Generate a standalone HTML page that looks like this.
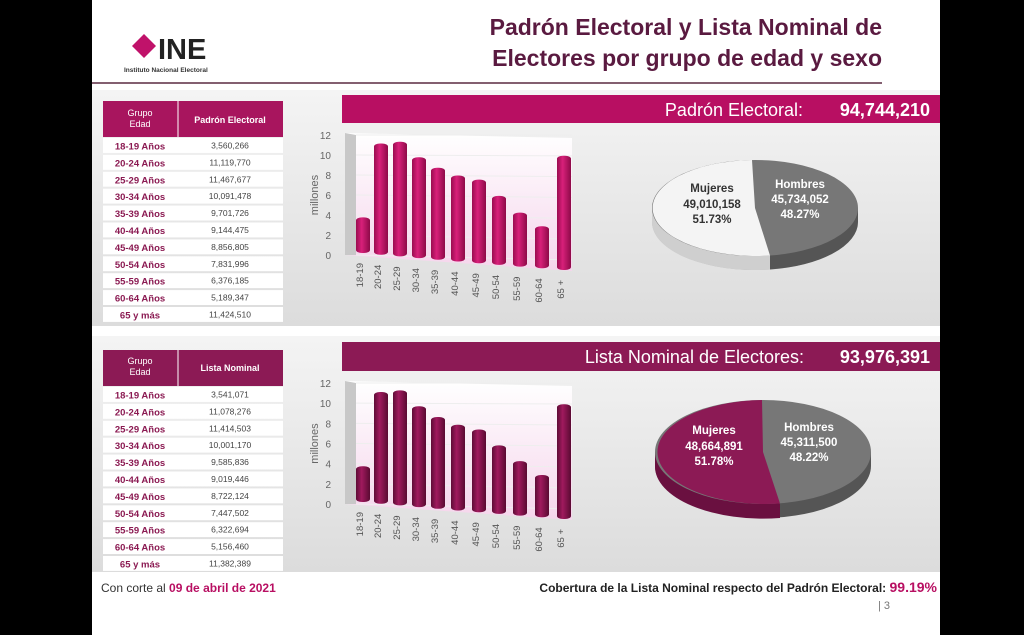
<!DOCTYPE html>
<html><head><meta charset="utf-8"><style>
body{margin:0;background:#000;}
svg{display:block;font-family:"Liberation Sans",sans-serif;}
</style></head><body>
<svg width="1024" height="635" viewBox="0 0 1024 635" xmlns="http://www.w3.org/2000/svg">
<defs>
<linearGradient id="pg" x1="0" y1="0" x2="0" y2="1"><stop offset="0" stop-color="#f4f4f4"/><stop offset="1" stop-color="#dcdcdc"/></linearGradient>
<linearGradient id="wall" x1="0" y1="0" x2="0" y2="1"><stop offset="0" stop-color="#fff"/><stop offset="1" stop-color="#f5d5ec"/></linearGradient>
<linearGradient id="b1" x1="0" x2="1"><stop offset="0" stop-color="#9a0c50"/><stop offset=".4" stop-color="#d8207a"/><stop offset="1" stop-color="#8e0a48"/></linearGradient>
<linearGradient id="b2" x1="0" x2="1"><stop offset="0" stop-color="#5e0c36"/><stop offset=".4" stop-color="#a01a5e"/><stop offset="1" stop-color="#5a0a32"/></linearGradient>
</defs>
<rect x="0" y="0" width="1024" height="635" fill="#000"/>
<rect x="92" y="0" width="848" height="635" fill="#fff"/>
<!-- header -->
<polygon points="144,34 156,46 144,58 132,46" fill="#c0126a"/>
<text x="158" y="59" font-size="29" font-weight="bold" fill="#222">INE</text>
<text x="124" y="72" font-size="6.5" font-weight="bold" fill="#333">Instituto Nacional Electoral</text>
<text x="882" y="35" font-size="23" text-anchor="end" fill="#5a1a40" font-weight="bold">Padrón Electoral y Lista Nominal de</text>
<text x="882" y="66" font-size="23" text-anchor="end" fill="#5a1a40" font-weight="bold">Electores por grupo de edad y sexo</text>
<line x1="92" y1="83" x2="882" y2="83" stroke="#5a2a40" stroke-width="1.5"/>
<!-- panels -->
<rect x="92" y="90" width="848" height="236" fill="url(#pg)"/>
<rect x="92" y="336" width="848" height="236" fill="url(#pg)"/>
<rect x="342" y="95" width="598" height="28" fill="#b80f62"/>
<text x="803" y="116" font-size="18" fill="#fff" text-anchor="end">Padrón Electoral:</text>
<text x="930" y="116" font-size="18" fill="#fff" font-weight="bold" text-anchor="end">94,744,210</text>
<rect x="342" y="342" width="598" height="29" fill="#8c1a55"/>
<text x="804" y="363" font-size="18" fill="#fff" text-anchor="end">Lista Nominal de Electores:</text>
<text x="930" y="363" font-size="18" fill="#fff" font-weight="bold" text-anchor="end">93,976,391</text>
<!-- tables -->
<g font-size="9.5">
<rect x="103" y="101" width="180" height="36" fill="#a8155e"/>
<line x1="178" y1="101" x2="178" y2="137" stroke="#fff"/>
<text x="140" y="116" fill="#fff" text-anchor="middle" font-size="9">Grupo</text>
<text x="140" y="127" fill="#fff" text-anchor="middle" font-size="9">Edad</text>
<text x="230" y="123" fill="#fff" text-anchor="middle" font-weight="bold" font-size="9">Padrón Electoral</text>
<rect x="103" y="350" width="180" height="36" fill="#8c1a55"/>
<line x1="178" y1="350" x2="178" y2="386" stroke="#fff"/>
<text x="140" y="364" fill="#fff" text-anchor="middle" font-size="9">Grupo</text>
<text x="140" y="375" fill="#fff" text-anchor="middle" font-size="9">Edad</text>
<text x="230" y="371" fill="#fff" text-anchor="middle" font-weight="bold" font-size="9">Lista Nominal</text>
</g>
<g id="rows" font-size="9.5"></g>
<!-- charts -->
<g id="charts"></g>
<!-- pies -->
<g>
<path d="M652,208 v14 a103,48 0 0 0 206,0 v-14 z" fill="#bbb"/>
<path d="M652,208 v14 a103,48 0 0 0 118,47.5 v-14 z" fill="#cfcfcf"/>
<path d="M770,255.5 v14 a103,48 0 0 0 88,-47.5 v-14 z" fill="#555"/>
<ellipse cx="755" cy="208" rx="103" ry="48" fill="#777"/>
<path d="M755,208 L752,160 A103,48 0 1 0 770,255.5 Z" fill="#f4f4f4"/>
<g font-size="11.5" font-weight="bold" text-anchor="middle">
<text x="712" y="192" fill="#333">Mujeres</text><text x="712" y="208" fill="#333">49,010,158</text><text x="712" y="223" fill="#333">51.73%</text>
<text x="800" y="188" fill="#fff">Hombres</text><text x="800" y="203" fill="#fff">45,734,052</text><text x="800" y="218" fill="#fff">48.27%</text>
</g>
<path d="M655,452 v14 a108,52 0 0 0 216,0 v-14 z" fill="#555"/>
<path d="M655,452 v14 a108,52 0 0 0 125,52 v-14 z" fill="#6a1040"/>
<ellipse cx="763" cy="452" rx="108" ry="52" fill="#777"/>
<path d="M763,452 L762,400 A108,52 0 1 0 780,503.5 Z" fill="#8c1a55"/>
<g font-size="11.5" font-weight="bold" text-anchor="middle" fill="#fff">
<text x="714" y="434">Mujeres</text><text x="714" y="450">48,664,891</text><text x="714" y="465">51.78%</text>
<text x="809" y="431">Hombres</text><text x="809" y="446">45,311,500</text><text x="809" y="461">48.22%</text>
</g>
</g>
<!-- footer -->
<text x="101" y="592" font-size="12" fill="#333">Con corte al <tspan fill="#b80f62" font-weight="bold">09 de abril de 2021</tspan></text>
<text x="937" y="592" font-size="12" fill="#222" font-weight="bold" text-anchor="end">Cobertura de la Lista Nominal respecto del Padrón Electoral: <tspan fill="#b80f62" font-size="14">99.19%</tspan></text>
<text x="878" y="609" font-size="11" fill="#777">| 3</text>
</svg>
<script>
var ns="http://www.w3.org/2000/svg";
function el(p,t,a,tx){var e=document.createElementNS(ns,t);for(var k in a)e.setAttribute(k,a[k]);if(tx)e.textContent=tx;p.appendChild(e);return e;}
var labs=["18-19 Años","20-24 Años","25-29 Años","30-34 Años","35-39 Años","40-44 Años","45-49 Años","50-54 Años","55-59 Años","60-64 Años","65 y más"];
var v1=["3,560,266","11,119,770","11,467,677","10,091,478","9,701,726","9,144,475","8,856,805","7,831,996","6,376,185","5,189,347","11,424,510"];
var v2=["3,541,071","11,078,276","11,414,503","10,001,170","9,585,836","9,019,446","8,722,124","7,447,502","6,322,694","5,156,460","11,382,389"];
var R=document.getElementById("rows");
function tbl(y0,vals,h){for(var i=0;i<11;i++){var y=y0+i*h;el(R,"rect",{x:103,y:y+1,width:180,height:h-2,fill:"#fff"});
el(R,"text",{x:140,y:y+h/2+4,"text-anchor":"middle","font-weight":"bold",fill:"#8b1a52"},labs[i]);
el(R,"text",{x:230,y:y+h/2+3,"text-anchor":"middle",fill:"#444","font-size":"8.5"},vals[i]);}}
tbl(137,v1,16.9);tbl(386,v2,16.9);
var C=document.getElementById("charts");
var ages=["18-19","20-24","25-29","30-34","35-39","40-44","45-49","50-54","55-59","60-64","65 +"];
function chart(y12,y0,vals,grad){
var s=(y0-y12)/12;
el(C,"polygon",{points:"345,"+(y12-2)+" 572,"+(y12+3)+" 572,"+(y0+16)+" 345,"+(y0),fill:"url(#wall)"});
el(C,"polygon",{points:"345,"+(y12-2)+" 356,"+(y12)+" 356,"+(y0)+" 345,"+(y0),fill:"#c8c8c8"});
for(var t=0;t<=12;t+=2){el(C,"text",{x:331,y:y0-t*s+4,"text-anchor":"end","font-size":"10",fill:"#666"},""+t);
el(C,"line",{x1:356,y1:y0-t*s,x2:572,y2:y0-t*s+5*(1-t/12),stroke:"#eee"});}
el(C,"text",{x:318,y:(y12+y0)/2,"font-size":"11",fill:"#666","text-anchor":"middle",transform:"rotate(-90 318 "+(y12+y0)/2+")"},"millones");
var xs=[363,381,400,419,438,458,479,499,520,542,564];
for(var i=0;i<11;i++){var b=y0-2+i*1.7,h=vals[i]*s,x=xs[i];
el(C,"rect",{x:x-7,y:b-h,width:14,height:h,rx:6,ry:3,fill:grad});
var ty=b+10;el(C,"text",{x:x,y:ty,"font-size":"9.5",fill:"#555","text-anchor":"end",transform:"rotate(-90 "+x+" "+ty+")"},ages[i]);}
}
chart(135,255,[3.56,11.12,11.47,10.09,9.2,8.6,8.36,6.9,5.4,4.2,11.42],"url(#b1)");
chart(383,504,[3.54,11.08,11.41,10.0,9.1,8.5,8.2,6.8,5.4,4.2,11.38],"url(#b2)");
</script>
</body></html>
